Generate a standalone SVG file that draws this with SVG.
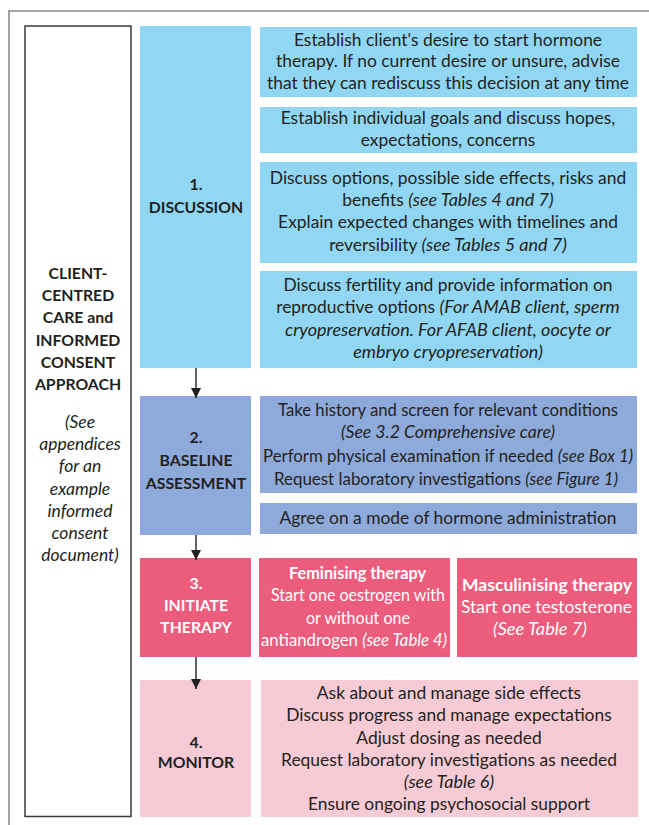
<svg xmlns="http://www.w3.org/2000/svg" width="649" height="825" viewBox="0 0 649 825">
<defs>
<style>
text{font-family:Lato,"Liberation Sans",sans-serif;font-size:17.4px;fill:#231f20;text-anchor:middle}
.b{font-weight:bold}
.i{font-style:italic;font-size:18px}
.i2{font-style:italic}
.w{fill:#ffffff}
.s{font-size:15.8px}
.li{font-size:17.5px}
.t{font-size:17px}
.c1{fill:#91d7f4}
.c2{fill:#8eaadb}
.c3{fill:#ec5c7c}
.c4{fill:#f7cbd6}
.conn{stroke:#231f20;stroke-width:1.4;fill:none}
</style>
<marker id="ah" markerWidth="12" markerHeight="12" refX="10" refY="5" orient="auto" markerUnits="userSpaceOnUse">
<path d="M0,0 L10,5 L0,10 z" fill="#231f20"/>
</marker>
</defs>
<rect width="649" height="825" fill="#ffffff"/>
<path d="M9,830 L9,11 L655,11" fill="none" stroke="#8a8a8a" stroke-width="1.6"/>

<g id="approach">
<rect x="25" y="26" width="106" height="790.5" fill="#ffffff" stroke="#3a3a3a" stroke-width="1.5"/>
<text class="b s" x="78" y="279">CLIENT-</text>
<text class="b s" x="78" y="301">CENTRED</text>
<text class="b s" x="78" y="323">CARE and</text>
<text class="b s" x="78" y="346">INFORMED</text>
<text class="b s" x="78" y="368">CONSENT</text>
<text class="b s" x="78" y="390">APPROACH</text>
<text class="i li" x="80" y="428">(See</text>
<text class="i li" x="80" y="450">appendices</text>
<text class="i li" x="80" y="472">for an</text>
<text class="i li" x="80" y="495">example</text>
<text class="i li" x="80" y="517">informed</text>
<text class="i li" x="80" y="539">consent</text>
<text class="i li" x="80" y="561">document)</text>
</g>

<g id="discussion">
<rect class="c1" x="140" y="26" width="111" height="342"/>
<text class="b s" x="196" y="190">1.</text>
<text class="b s" x="196" y="213">DISCUSSION</text>
</g>
<g id="d1">
<rect class="c1" x="260" y="27" width="377" height="70"/>
<text x="448" y="46">Establish client's desire to start hormone</text>
<text x="448" y="67">therapy. If no current desire or unsure, advise</text>
<text x="448" y="89">that they can rediscuss this decision at any time</text>
</g>
<g id="d2">
<rect class="c1" x="260" y="107" width="377" height="46"/>
<text x="448" y="124">Establish individual goals and discuss hopes,</text>
<text x="448" y="146">expectations, concerns</text>
</g>
<g id="d3">
<rect class="c1" x="260" y="162" width="377" height="101"/>
<text x="448" y="184">Discuss options, possible side effects, risks and</text>
<text x="448" y="206">benefits <tspan class="i">(see Tables 4 and 7)</tspan></text>
<text x="448" y="228">Explain expected changes with timelines and</text>
<text x="448" y="251">reversibility <tspan class="i">(see Tables 5 and 7)</tspan></text>
</g>
<g id="d4">
<rect class="c1" x="260" y="271" width="377" height="97"/>
<text x="448" y="291">Discuss fertility and provide information on</text>
<text x="448" y="313">reproductive options <tspan class="i">(For AMAB client, sperm</tspan></text>
<text class="i" x="448" y="336">cryopreservation. For AFAB client, oocyte or</text>
<text class="i" x="448" y="358">embryo cryopreservation)</text>
</g>

<g id="baseline">
<rect class="c2" x="140" y="396" width="111" height="139"/>
<text class="b s" x="196" y="443">2.</text>
<text class="b s" x="196" y="466">BASELINE</text>
<text class="b s" x="196" y="489">ASSESSMENT</text>
</g>
<g id="b1">
<rect class="c2" x="260" y="396" width="377" height="97"/>
<text class="t" x="448" y="415.5" textLength="340" lengthAdjust="spacingAndGlyphs">Take history and screen for relevant conditions</text>
<text class="i2 t" x="448" y="438" textLength="214" lengthAdjust="spacingAndGlyphs">(See 3.2 Comprehensive care)</text>
<text class="t" x="448" y="462" textLength="370" lengthAdjust="spacingAndGlyphs">Perform physical examination if needed <tspan class="i2">(see Box 1)</tspan></text>
<text class="t" x="446" y="485" textLength="344" lengthAdjust="spacingAndGlyphs">Request laboratory investigations <tspan class="i2">(see Figure 1)</tspan></text>
</g>
<g id="b2">
<rect class="c2" x="260" y="503" width="377" height="31"/>
<text x="448" y="524">Agree on a mode of hormone administration</text>
</g>

<g id="initiate">
<rect class="c3" x="140" y="558" width="111" height="99"/>
<text class="b s w" x="196" y="589">3.</text>
<text class="b s w" x="196" y="611">INITIATE</text>
<text class="b s w" x="196" y="633">THERAPY</text>
</g>
<g id="feminising">
<rect class="c3" x="259" y="558" width="191" height="99"/>
<text class="b w" x="357.5" y="579" textLength="137" lengthAdjust="spacingAndGlyphs">Feminising therapy</text>
<text class="w" x="358" y="601" textLength="174" lengthAdjust="spacingAndGlyphs">Start one oestrogen with</text>
<text class="w" x="358" y="624" textLength="104" lengthAdjust="spacingAndGlyphs">or without one</text>
<text class="w" x="354" y="646" textLength="186" lengthAdjust="spacingAndGlyphs">antiandrogen <tspan class="i2">(see Table 4)</tspan></text>
</g>
<g id="masculinising">
<rect class="c3" x="457" y="558" width="180" height="99"/>
<text class="b w" x="547" y="591" textLength="170" lengthAdjust="spacingAndGlyphs">Masculinising therapy</text>
<text class="w" x="546.5" y="613" textLength="171" lengthAdjust="spacingAndGlyphs">Start one testosterone</text>
<text class="i2 w" x="540" y="635" textLength="94" lengthAdjust="spacingAndGlyphs">(See Table 7)</text>
</g>

<g id="monitor">
<rect class="c4" x="140" y="680" width="111" height="137"/>
<text class="b s" x="196" y="748">4.</text>
<text class="b s" x="196" y="768">MONITOR</text>
</g>
<g id="m1">
<rect class="c4" x="261" y="680" width="377" height="137"/>
<text x="449" y="699">Ask about and manage side effects</text>
<text x="449" y="721">Discuss progress and manage expectations</text>
<text x="449" y="744">Adjust dosing as needed</text>
<text x="449" y="766">Request laboratory investigations as needed</text>
<text class="i" x="449" y="788">(see Table 6)</text>
<text x="449" y="810">Ensure ongoing psychosocial support</text>
</g>

<g id="connectors">
<line class="conn" x1="196" y1="368" x2="196" y2="398" marker-end="url(#ah)"/>
<line class="conn" x1="196" y1="535" x2="196" y2="560" marker-end="url(#ah)"/>
<line class="conn" x1="196" y1="657" x2="196" y2="689" marker-end="url(#ah)"/>
</g>
</svg>
